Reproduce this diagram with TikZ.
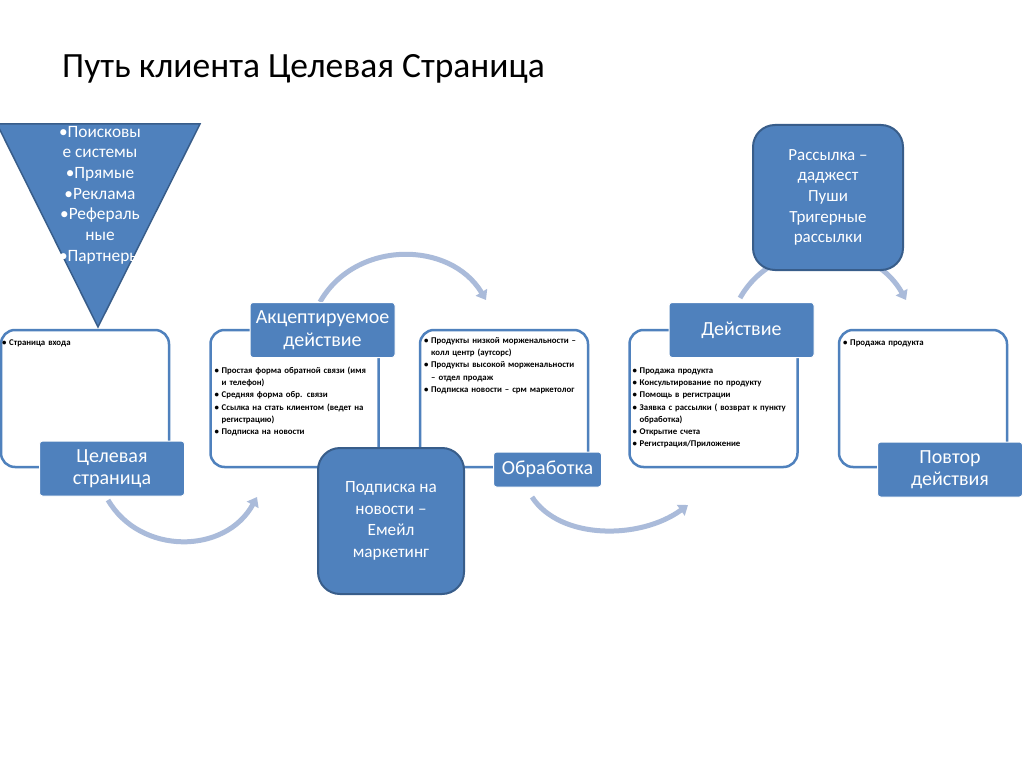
\documentclass[tikz,border=0pt]{standalone}
\usepackage{fontspec}
\setmainfont{Carlito}
\usepackage{tikz}
\usetikzlibrary{arrows.meta, positioning}
\definecolor{sinij}{RGB}{79,129,189}
\definecolor{sinijt}{RGB}{56,93,138}
\definecolor{strelka}{RGB}{170,187,218}
\newcommand{\punkt}{\par\noindent\hangindent=7pt\hangafter=1\makebox[7pt][l]{\textbullet}}
\tikzset{
  ramka/.style={rectangle, rounded corners=14pt, draw=sinij, line width=2.5pt,
    minimum width=168pt, minimum height=137pt, outer sep=0pt},
  metka/.style={rectangle, rounded corners=3pt, fill=sinij, draw=white,
    line width=1pt, text=white, align=center, outer sep=0pt,
    minimum width=145pt, minimum height=55pt, font=\fontsize{20}{22.5}\selectfont},
  blok/.style={rectangle, rounded corners=22pt, fill=sinij, draw=sinijt,
    line width=2pt, text=white, align=center, font=\fontsize{17.2}{21.5}\selectfont},
  spisok/.style={anchor=north west, inner sep=0pt, align=left, text width=165pt,
    font=\bfseries\fontsize{8.8}{12.2}\selectfont},
  duga/.style={draw=strelka, line width=5pt, -{Triangle[length=9pt,width=13pt]}}
}
\begin{document}
\begin{tikzpicture}[x=1pt, y=-1pt]
  \fill[white] (0,0) rectangle (1024,767);
  \useasboundingbox (0,0) rectangle (1024,767);
  % заголовок
  \node[anchor=base west, inner sep=0pt, font=\fontsize{35.5}{40}\selectfont] (title)
    at (62,78) {Путь клиента Целевая Страница};
  % дуги
  \coordinate (d1a) at (108,500); \coordinate (d1b) at (257,497);
  \coordinate (d2a) at (320,302); \coordinate (d2b) at (486,300);
  \coordinate (d3a) at (532,497); \coordinate (d3b) at (688,505);
  \coordinate (d4a) at (740,298); \coordinate (d4b) at (906,300);
  \draw[duga] (d1a) .. controls (140,555) and (225,555) .. (d1b);
  \draw[duga] (d2a) .. controls (355,240) and (450,240) .. (d2b);
  \draw[duga] (d3a) .. controls (560,540) and (640,540) .. (d3b);
  \draw[duga] (d4a) .. controls (775,236) and (870,236) .. (d4b);
  % воронка
  \fill[sinij, draw=sinijt, line width=1.5pt] (-3,124) -- (200,124) -- (98,327) -- cycle;
  \node[text=white, align=center, font=\fontsize{17.3}{20.7}\selectfont] (istochniki) at (100,195)
    {\textbullet Поисковы\\е системы\\\textbullet Прямые\\\textbullet Реклама\\
     \textbullet Рефераль\\ные\\\textbullet Партнеры};
  % рамки
  \node[ramka, anchor=north west] (r1) at (1,330) {};
  \node[ramka, right=41.5pt of r1] (r2) {};
  \node[ramka, right=41.5pt of r2] (r3) {};
  \node[ramka, right=41.5pt of r3] (r4) {};
  \node[ramka, right=41.5pt of r4] (r5) {};
  % списки
  \node[spisok] (t1) at ([xshift=1pt,yshift=-3pt]r1.north west)
    {\punkt Страница входа};
  \node[spisok] (t2) at ([xshift=4pt,yshift=-31pt]r2.north west)
    {\punkt Простая форма обратной связи (имя\newline и телефон)
     \punkt Средняя форма обр. связи
     \punkt Ссылка на стать клиентом (ведет на\newline регистрацию)
     \punkt Подписка на новости};
  \node[spisok] (t3) at ([xshift=4pt,yshift=-1pt]r3.north west)
    {\punkt Продукты низкой морженальности –\newline колл центр (аутсорс)
     \punkt Продукты высокой морженальности\newline – отдел продаж
     \punkt Подписка новости – срм маркетолог};
  \node[spisok] (t4) at ([xshift=3pt,yshift=-31pt]r4.north west)
    {\punkt Продажа продукта
     \punkt Консультирование по продукту
     \punkt Помощь в регистрации
     \punkt Заявка с рассылки ( возврат к пункту\newline обработка)
     \punkt Открытие счета
     \punkt Регистрация/Приложение};
  \node[spisok] (t5) at ([xshift=4pt,yshift=-3pt]r5.north west)
    {\punkt Продажа продукта};
  % метки
  \node[metka] (l1) at ([xshift=27pt,yshift=-1.5pt]r1.south) {Целевая\\страница};
  \node[metka] (l2) at ([xshift=28pt]r2.north) {Акцептируемое\\действие};
  \node[metka, minimum width=108pt, minimum height=35pt] (l3)
    at ([xshift=43.5pt,yshift=-2.5pt]r3.south) {Обработка};
  \node[metka] (l4) at ([xshift=28pt]r4.north) {Действие};
  \node[metka] (l5) at ([xshift=27pt,yshift=-2.5pt]r5.south) {Повтор\\действия};
  % блоки
  \node[blok, minimum width=146pt, minimum height=146pt] (podpiska) at (391,521)
    {Подписка на\\новости –\\Емейл\\маркетинг};
  \node[blok, minimum width=150pt, minimum height=145pt,
    font=\fontsize{17}{20.7}\selectfont] (rassylka) at (828,197.5)
    {Рассылка –\\даджест\\Пуши\\Тригерные\\рассылки};
\end{tikzpicture}
\end{document}
